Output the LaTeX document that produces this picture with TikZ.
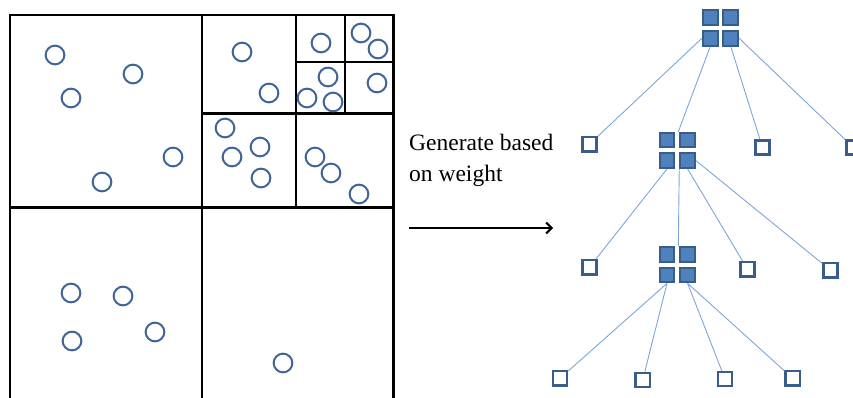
\documentclass[tikz,border=0pt]{standalone}
\usepackage{fontspec}
\setmainfont{Liberation Serif}
\usetikzlibrary{arrows.meta}
\definecolor{circblue}{HTML}{3F6497}
\definecolor{sqfill}{HTML}{4F81BD}
\definecolor{sqedge}{HTML}{385D8A}
\definecolor{linkblue}{HTML}{7EA6D8}
\tikzset{
  pt/.style={circle, draw=circblue, line width=2pt, minimum size=18.7pt, inner sep=0pt},
  cell/.style={draw=black, line width=2.4pt},
  subcell/.style={draw=black, line width=2pt},
  full/.style={rectangle, fill=sqfill, draw=sqedge, line width=2pt, minimum size=14.7pt, inner sep=0pt},
  leaf/.style={rectangle, fill=white, draw=sqedge, line width=2.4pt, minimum size=14.3pt, inner sep=0pt},
  link/.style={draw=linkblue, line width=0.9pt},
  lbl/.style={font=\fontsize{23.5}{31}\selectfont, align=left, inner sep=0pt},
}
\newcommand\quadgroup[3]{%
  \begin{scope}[shift={(#2,#3)}]
    \node[full] (#1a) at (-10.3,-10.3) {};
    \node[full] (#1b) at (10.3,-10.3) {};
    \node[full] (#1c) at (-10.3,10.3) {};
    \node[full] (#1d) at (10.3,10.3) {};
    \coordinate (#1top) at (1,-18.5);
  \end{scope}}
\begin{document}
\begin{tikzpicture}[x=1pt,y=-1pt]
\clip (0,0) rectangle (853,398);
\fill[white] (0,0) rectangle (853,398);
% quadtree partition
\draw[cell] (10,15) rectangle (393.3,400);
\draw[cell] (201.7,15) -- (201.7,400);
\draw[cell] (10,207.3) -- (393.3,207.3);
\draw[cell] (295.7,15) -- (295.7,207.3);
\draw[cell] (201.7,113.7) -- (393.3,113.7);
\draw[subcell] (345,15) -- (345,113.7);
\draw[subcell] (295.7,61.7) -- (393.3,61.7);
% points
\foreach \px/\py [count=\i] in {
  55/55, 133/74, 71/98, 173/157, 102/182,
  242/52, 269/93,
  321/43, 361/33, 378/49, 328/77, 307/98, 333/102, 377/83,
  225/128, 260/147, 232/157, 261/178,
  315/157, 331/173, 359/194,
  71/293, 123/296, 72/341, 155/332,
  283/363}
  \node[pt] (p\i) at (\px,\py) {};
% label and arrow
\node[lbl, anchor=base west] (txt) at (409,182) {Generate based\\on weight};
\coordinate (as) at (409,228);
\coordinate (ae) at (553,228);
\draw[line width=2pt, -{Straight Barb[length=5.5pt,width=11pt,line width=2pt]}] (as) -- (ae);
% tree
\quadgroup{r}{720.5}{28}
\quadgroup{g}{677.3}{150.3}
\quadgroup{h}{677.3}{264.7}
\node[leaf] (la) at (589.5,144.2) {};
\node[leaf] (lb) at (762.5,147.5) {};
\node[leaf] (lc) at (853.5,147.5) {};
\node[leaf] (ma) at (589.5,267.2) {};
\node[leaf] (mb) at (747.5,269.2) {};
\node[leaf] (mc) at (830.5,270.2) {};
\node[leaf] (na) at (560,378.3) {};
\node[leaf] (nb) at (642.7,380) {};
\node[leaf] (nc) at (725,379) {};
\node[leaf] (nd) at (792.7,378.3) {};
\draw[link] (rc.west) -- (la);
\draw[link] (rc.south) -- (gtop);
\draw[link] (rd.south) -- (lb);
\draw[link] (rd.east) -- (lc);
\draw[link] (gc.south) -- (ma);
\draw[link] (gd.south west) -- (htop);
\draw[link] (gd.south) -- (mb);
\draw[link] (gd.east) -- (mc);
\draw[link] (hc.south) -- (na);
\draw[link] (hc.south) -- (nb);
\draw[link] (hd.south) -- (nc);
\draw[link] (hd.south) -- (nd);
\end{tikzpicture}
\end{document}
